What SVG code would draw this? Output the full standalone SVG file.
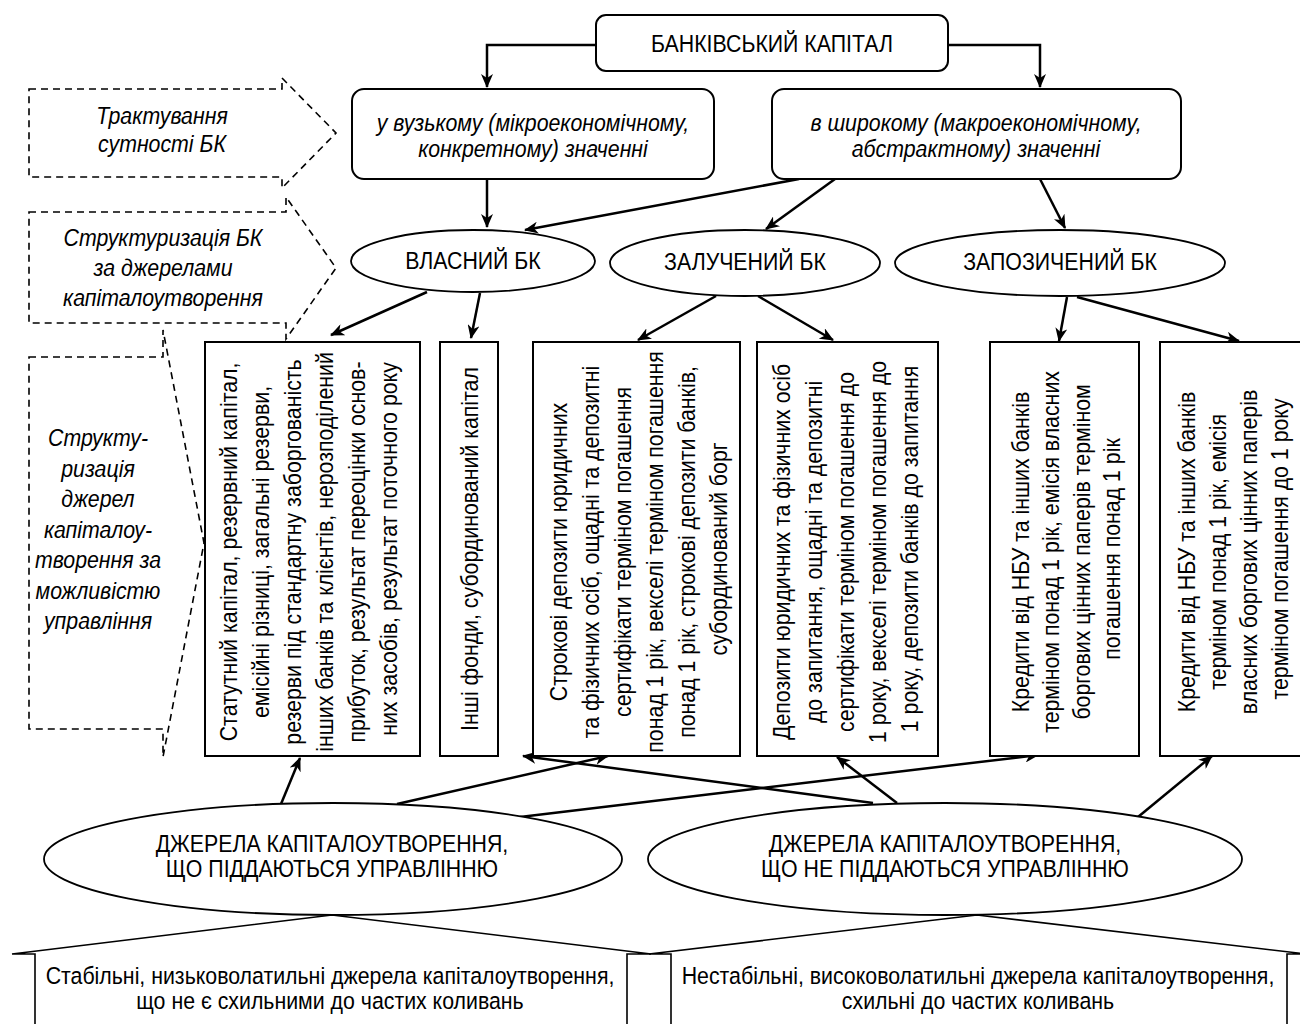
<svg xmlns="http://www.w3.org/2000/svg" width="1300" height="1024" viewBox="0 0 1300 1024">
<style>
text{font-family:"Liberation Sans",Arial,sans-serif;font-size:24.5px;fill:#000;text-anchor:middle}
.it{font-style:italic}
.sm{font-size:23px}
.box{fill:#fff;stroke:#000;stroke-width:2}
.ell{fill:#fff;stroke:#000;stroke-width:1.8}
.dash{fill:none;stroke:#000;stroke-width:1.6;stroke-dasharray:7 5}
.shape{fill:#fff;stroke:#000;stroke-width:1.6}
.con{fill:none;stroke:#000;stroke-width:2.5;marker-end:url(#ah)}
</style>
<defs>
<marker id="ah" markerUnits="userSpaceOnUse" viewBox="0 0 14 12" markerWidth="14" markerHeight="12" refX="13" refY="6" orient="auto">
<path d="M0,0 L14,6 L0,12 L4,6 Z" fill="#000"/>
</marker>
</defs>
<rect width="1300" height="1024" fill="#fff"/>

<g id="lbl-treatment">
<path class="dash" d="M29,89 H282 V78 L336,133 L282,188 V177 H29 Z"/>
<text class="it" transform="translate(162,124) scale(0.87,1)">Трактування</text>
<text class="it" transform="translate(162,152) scale(0.87,1)">сутності БК</text>
</g>
<g id="lbl-structuring">
<path class="dash" d="M29,212 H286 V197 L336,268 L286,339 V323 H29 Z"/>
<text class="it" transform="translate(163,246) scale(0.87,1)">Структуризація БК</text>
<text class="it" transform="translate(163,276) scale(0.87,1)">за джерелами</text>
<text class="it" transform="translate(163,306) scale(0.87,1)">капіталоутворення</text>
</g>
<g id="lbl-management">
<path class="dash" d="M29,357 H163 V330 L204,543 L163,757 V729 H29 Z"/>
<text class="it" transform="translate(98,446) scale(0.87,1)">Структу-</text>
<text class="it" transform="translate(98,476.5) scale(0.87,1)">ризація</text>
<text class="it" transform="translate(98,507) scale(0.87,1)">джерел</text>
<text class="it" transform="translate(98,537.5) scale(0.87,1)">капіталоу-</text>
<text class="it" transform="translate(98,568) scale(0.87,1)">творення за</text>
<text class="it" transform="translate(98,598.5) scale(0.87,1)">можливістю</text>
<text class="it" transform="translate(98,629) scale(0.87,1)">управління</text>
</g>

<g id="connectors">
<path class="con" d="M596,45 H487 V87"/>
<path class="con" d="M948,45 H1040 V87"/>
<path class="con" d="M487,179 V227"/>
<path class="con" d="M799,179 L525,230"/>
<path class="con" d="M835,179 L766,229"/>
<path class="con" d="M1040,179 L1065,228"/>
<path class="con" d="M427,292 L331,335"/>
<path class="con" d="M480,293 L471,338"/>
<path class="con" d="M716,296 L638,340"/>
<path class="con" d="M758,296 L833,340"/>
<path class="con" d="M1067,297 L1059,341"/>
<path class="con" d="M1077,297 L1239,341"/>
<path class="con" d="M281,804 L300,758"/>
<path class="con" d="M397,804 L608,756"/>
<path class="con" d="M520,817 L1038,755"/>
<path class="con" d="M873,803 L523,756"/>
<path class="con" d="M897,803 L837,757"/>
<path class="con" d="M1138,817 L1212,756"/>
</g>

<g id="n-bank-capital">
<rect class="box" x="596" y="15" width="352" height="56" rx="10"/>
<text transform="translate(772,52) scale(0.87,1)">БАНКІВСЬКИЙ КАПІТАЛ</text>
</g>
<g id="n-narrow">
<rect class="box" x="352" y="89" width="362" height="90" rx="12"/>
<text class="it" transform="translate(533,131) scale(0.87,1)">у вузькому (мікроекономічному,</text>
<text class="it" transform="translate(533,157) scale(0.87,1)">конкретному) значенні</text>
</g>
<g id="n-broad">
<rect class="box" x="772" y="89" width="409" height="90" rx="12"/>
<text class="it" transform="translate(976,131) scale(0.87,1)">в широкому (макроекономічному,</text>
<text class="it" transform="translate(976,157) scale(0.87,1)">абстрактному) значенні</text>
</g>

<g id="n-own">
<ellipse class="ell" cx="473" cy="261" rx="122" ry="31"/>
<text transform="translate(473,269) scale(0.87,1)">ВЛАСНИЙ БК</text>
</g>
<g id="n-attracted">
<ellipse class="ell" cx="745" cy="263" rx="135" ry="33"/>
<text transform="translate(745,270) scale(0.87,1)">ЗАЛУЧЕНИЙ БК</text>
</g>
<g id="n-borrowed">
<ellipse class="ell" cx="1060" cy="263" rx="165" ry="33"/>
<text transform="translate(1060,270) scale(0.87,1)">ЗАПОЗИЧЕНИЙ БК</text>
</g>

<g id="n-statutory">
<rect class="box" x="205" y="342" width="215" height="414"/>
<text transform="translate(237,549) rotate(-90) scale(0.87,1)">
<tspan x="0" y="0">Статутний капітал, резервний капітал,</tspan>
<tspan x="0" y="32">емісійні різниці, загальні резерви,</tspan>
<tspan x="0" y="64">резерви під стандартну заборгованість</tspan>
<tspan x="0" y="96">інших банків та клієнтів, нерозподілений</tspan>
<tspan x="0" y="128">прибуток, результат переоцінки основ-</tspan>
<tspan x="0" y="160">них засобів, результат поточного року</tspan>
</text>
</g>
<g id="n-other-funds">
<rect class="box" x="440" y="342" width="58" height="414"/>
<text transform="translate(478,549) rotate(-90) scale(0.87,1)">Інші фонди, субординований капітал</text>
</g>
<g id="n-term-deposits">
<rect class="box" x="533" y="342" width="207" height="414"/>
<text transform="translate(567,549) rotate(-90) scale(0.87,1)">
<tspan x="0" y="0">Строкові депозити юридичних</tspan>
<tspan x="0" y="32">та фізичних осіб, ощадні та депозитні</tspan>
<tspan x="0" y="64">сертифікати терміном погашення</tspan>
<tspan x="0" y="96">понад 1 рік, векселі терміном погашення</tspan>
<tspan x="0" y="128">понад 1 рік, строкові депозити банків,</tspan>
<tspan x="0" y="160">субординований борг</tspan>
</text>
</g>
<g id="n-demand-deposits">
<rect class="box" x="757" y="342" width="181" height="414"/>
<text transform="translate(790,549) rotate(-90) scale(0.87,1)">
<tspan x="0" y="0">Депозити юридичних та фізичних осіб</tspan>
<tspan x="0" y="32">до запитання, ощадні та депозитні</tspan>
<tspan x="0" y="64">сертифікати терміном погашення до</tspan>
<tspan x="0" y="96">1 року, векселі терміном погашення до</tspan>
<tspan x="0" y="128">1 року, депозити банків до запитання</tspan>
</text>
</g>
<g id="n-loans-long">
<rect class="box" x="990" y="342" width="149" height="414"/>
<text transform="translate(1029,549) rotate(-90) scale(0.87,1)">
<tspan x="0" y="0">Кредити від НБУ та інших банків</tspan>
<tspan x="0" y="30.5">терміном понад 1 рік, емісія власних</tspan>
<tspan x="0" y="61">боргових цінних паперів терміном</tspan>
<tspan x="0" y="91.5">погашення понад 1 рік</tspan>
</text>
</g>
<g id="n-loans-short">
<rect class="box" x="1160" y="342" width="150" height="414"/>
<text transform="translate(1195,549) rotate(-90) scale(0.87,1)">
<tspan x="0" y="0">Кредити від НБУ та інших банків</tspan>
<tspan x="0" y="31">терміном понад 1 рік, емісія</tspan>
<tspan x="0" y="62">власних боргових цінних паперів</tspan>
<tspan x="0" y="93">терміном погашення до 1 року</tspan>
</text>
</g>

<g id="n-managed">
<ellipse class="ell" cx="333" cy="859" rx="289" ry="56"/>
<text class="sm" transform="translate(332,852) scale(0.927,1)">ДЖЕРЕЛА КАПІТАЛОУТВОРЕННЯ,</text>
<text class="sm" transform="translate(332,877) scale(0.927,1)">ЩО ПІДДАЮТЬСЯ УПРАВЛІННЮ</text>
</g>
<g id="n-unmanaged">
<ellipse class="ell" cx="945" cy="859" rx="297" ry="56"/>
<text class="sm" transform="translate(945,852) scale(0.927,1)">ДЖЕРЕЛА КАПІТАЛОУТВОРЕННЯ,</text>
<text class="sm" transform="translate(945,877) scale(0.927,1)">ЩО НЕ ПІДДАЮТЬСЯ УПРАВЛІННЮ</text>
</g>

<g id="n-stable">
<path class="shape" d="M35,1040 V954 H12 L332,915 L651,954 H627 V1040 Z"/>
<text transform="translate(330,984) scale(0.87,1)">Стабільні, низьковолатильні джерела капіталоутворення,</text>
<text transform="translate(330,1009) scale(0.87,1)">що не є схильними до частих коливань</text>
</g>
<g id="n-unstable">
<path class="shape" d="M671,1040 V954 H649 L977,915 L1306,954 H1287 V1040 Z"/>
<text transform="translate(978,984) scale(0.87,1)">Нестабільні, високоволатильні джерела капіталоутворення,</text>
<text transform="translate(978,1009) scale(0.87,1)">схильні до частих коливань</text>
</g>
</svg>
